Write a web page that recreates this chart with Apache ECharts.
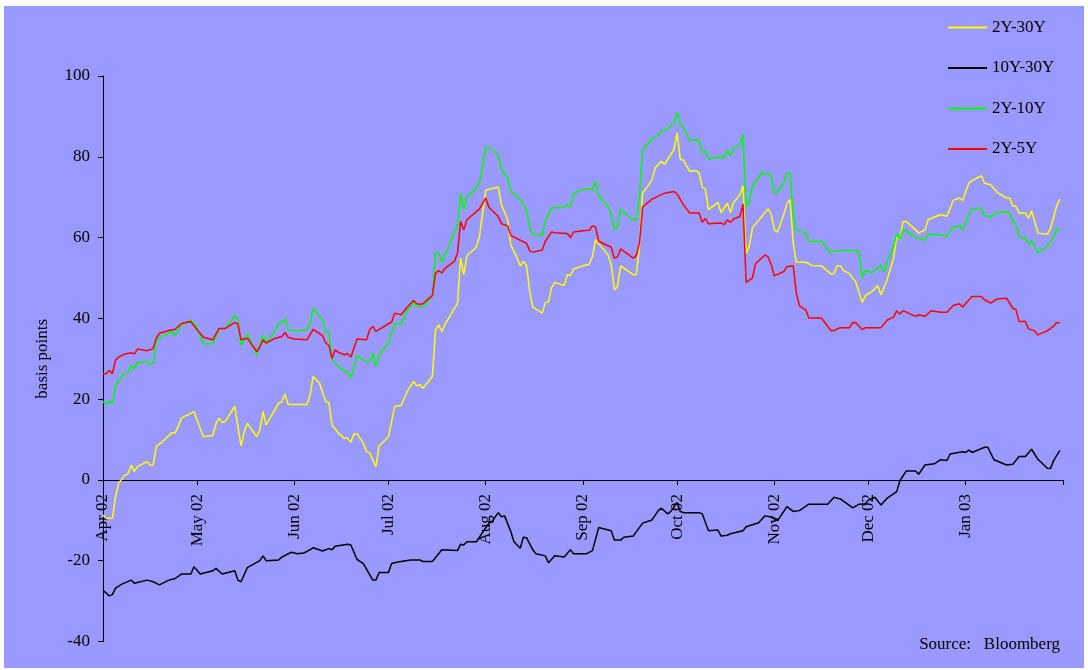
<!DOCTYPE html>
<html>
<head>
<meta charset="utf-8">
<script src="https://cdn.jsdelivr.net/npm/echarts@6/dist/echarts.min.js"></script>
<style>
  html, body { margin: 0; padding: 0; background: #ffffff; width: 1088px; height: 670px; overflow: hidden; }
  #chart { position: absolute; left: 4px; top: 6px; width: 1080px; height: 662px; }
</style>
</head>
<body>
<div id="chart"></div>
<script>
// x values: calendar days since 1 April 2002
const monthStarts = [0, 30, 61, 91, 122, 153, 183, 214, 244, 275, 306];
const monthLabels = ['Apr 02', 'May 02', 'Jun 02', 'Jul 02', 'Aug 02', 'Sep 02', 'Oct 02', 'Nov 02', 'Dec 02', 'Jan 03'];
const seriesNames = ['2Y-30Y', '10Y-30Y', '2Y-10Y', '2Y-5Y'];

const s2y30y = [[0,-8.7],[1,-9.5],[3,-9.5],[4,-4.1],[5,-0.8],[7,1.2],[8,1.5],[9,3.7],[10,2.1],[11,3.3],[14,4.5],[15,3.7],[16,3.7],[17,8.3],[19,9.5],[22,11.7],[23,11.7],[24,13.2],[25,15.3],[29,16.9],[32,10.7],[35,11.0],[36,13.9],[37,15.3],[38,14.2],[39,14.5],[42,18.2],[44,8.4],[45,11.9],[46,14.0],[49,10.7],[50,12.4],[51,16.9],[52,13.6],[56,19.0],[57,19.3],[58,21.2],[59,18.7],[65,18.7],[66,21.0],[67,25.6],[69,24.0],[70,21.6],[71,19.4],[72,19.2],[73,13.6],[75,11.6],[77,10.3],[78,10.3],[79,9.3],[80,11.4],[81,11.4],[83,9.1],[84,7.0],[85,6.7],[87,3.3],[88,8.4],[91,10.7],[93,18.2],[95,18.4],[97,21.9],[99,24.4],[100,23.3],[101,23.6],[102,22.7],[105,25.6],[106,37.2],[107,38.4],[108,36.7],[109,38.5],[113,43.8],[114,54.9],[115,50.8],[116,55.5],[119,57.6],[120,60.3],[122,71.7],[126,72.5],[127,68.1],[129,64.4],[130,58.2],[132,54.9],[133,53.0],[134,54.1],[135,53.1],[136,46.7],[137,42.8],[140,41.3],[141,43.9],[142,44.1],[143,47.6],[144,48.9],[147,48.1],[148,50.8],[149,50.6],[150,52.2],[153,53.0],[155,53.4],[156,55.3],[157,59.5],[158,58.5],[161,55.7],[162,53.3],[163,47.1],[164,47.9],[165,53.0],[169,50.8],[170,50.8],[171,57.8],[172,71.0],[175,74.3],[176,77.2],[178,78.9],[179,78.1],[182,81.8],[183,85.9],[184,79.4],[185,79.2],[187,76.4],[189,76.6],[190,76.0],[191,72.5],[192,72.0],[193,66.9],[196,68.7],[197,66.2],[199,68.5],[200,66.2],[201,68.7],[203,70.6],[204,72.8],[205,56.0],[206,57.8],[207,62.4],[212,67.1],[213,65.7],[214,61.9],[215,61.4],[217,65.7],[218,68.4],[219,69.4],[220,58.6],[221,53.9],[224,53.9],[226,53.1],[229,53.0],[232,51.0],[233,51.1],[234,53.0],[235,53.0],[236,51.9],[238,51.0],[240,48.9],[242,43.9],[243,45.6],[245,46.6],[247,48.1],[248,45.8],[250,49.7],[252,54.9],[253,60.5],[254,59.5],[255,64.0],[256,64.0],[259,61.9],[260,61.1],[262,61.9],[263,64.4],[267,65.7],[269,65.3],[271,69.2],[273,69.8],[274,69.2],[276,73.5],[277,74.1],[280,75.3],[281,73.5],[283,73.0],[285,71.2],[288,69.8],[289,69.8],[290,67.9],[291,67.7],[292,66.1],[294,66.1],[295,64.8],[296,66.6],[298,61.1],[301,60.8],[302,62.2],[304,67.9],[305,69.5]];

const s10y30y = [[0,-27.3],[2,-28.7],[3,-28.4],[4,-26.8],[6,-25.8],[9,-24.8],[10,-25.6],[14,-24.8],[16,-25.2],[18,-26.0],[21,-24.8],[23,-24.4],[25,-23.3],[28,-23.3],[29,-21.5],[31,-23.3],[35,-22.5],[36,-21.9],[38,-23.3],[42,-22.5],[43,-24.8],[44,-25.2],[46,-21.7],[50,-20.0],[51,-18.8],[52,-20.0],[56,-19.8],[57,-19.1],[60,-17.9],[62,-18.3],[64,-18.1],[65,-17.7],[67,-16.8],[70,-17.6],[72,-17.0],[73,-17.3],[74,-16.4],[78,-15.9],[79,-16.1],[81,-19.7],[83,-20.7],[86,-24.8],[87,-24.8],[88,-22.9],[91,-22.9],[92,-20.7],[94,-20.3],[98,-19.8],[101,-19.8],[102,-20.2],[105,-20.2],[108,-17.3],[113,-17.5],[114,-15.9],[115,-16.1],[116,-15.3],[119,-15.3],[123,-10.7],[124,-10.3],[126,-8.1],[127,-9.1],[128,-8.9],[130,-12.8],[131,-15.3],[133,-16.9],[134,-14.2],[135,-14.3],[137,-17.3],[138,-18.3],[141,-18.8],[142,-20.5],[144,-18.8],[147,-19.1],[149,-17.3],[150,-18.3],[154,-18.3],[156,-17.5],[158,-11.8],[162,-12.6],[163,-14.9],[165,-14.9],[166,-14.2],[169,-13.9],[172,-10.7],[175,-9.9],[177,-7.6],[178,-7.0],[180,-8.4],[181,-7.8],[183,-5.6],[184,-7.8],[185,-8.1],[190,-8.1],[191,-8.4],[193,-12.6],[196,-12.4],[197,-13.9],[199,-13.7],[200,-13.3],[204,-12.6],[205,-11.6],[209,-10.6],[211,-8.9],[213,-9.2],[215,-10.1],[218,-6.6],[220,-7.8],[222,-7.6],[225,-6.0],[231,-6.0],[233,-4.3],[235,-4.7],[239,-6.9],[241,-6.0],[243,-5.9],[244,-5.0],[246,-4.3],[248,-6.2],[250,-4.5],[253,-2.9],[254,-0.2],[256,2.2],[259,2.2],[260,1.4],[262,3.7],[265,4.0],[267,5.0],[269,4.8],[270,6.4],[274,7.0],[275,6.8],[276,7.4],[277,6.8],[281,8.1],[282,8.1],[284,5.0],[288,3.7],[290,3.9],[292,5.8],[294,5.8],[296,7.6],[298,5.1],[301,2.9],[302,2.8],[303,4.8],[305,7.3]];

const s2y10y = [[0,19.4],[1,18.7],[2,19.5],[3,18.9],[4,23.5],[7,26.6],[8,26.7],[9,28.5],[10,27.3],[11,29.1],[14,29.3],[15,28.5],[16,28.9],[17,34.3],[18,35.3],[21,36.3],[22,36.8],[23,35.7],[25,38.4],[28,39.6],[30,37.6],[32,33.7],[35,33.7],[37,37.3],[39,37.5],[42,40.7],[43,39.8],[44,33.2],[45,35.1],[46,36.1],[47,34.7],[49,31.0],[51,35.9],[52,34.0],[54,35.9],[56,38.8],[57,39.0],[58,39.9],[59,37.3],[61,36.8],[65,37.2],[66,38.7],[67,42.5],[70,39.6],[71,36.8],[72,36.6],[73,29.7],[76,27.4],[78,26.6],[79,25.2],[81,30.7],[84,29.3],[85,29.3],[86,31.4],[87,28.1],[88,31.0],[91,33.9],[93,38.8],[95,38.4],[97,42.1],[99,43.9],[100,43.1],[102,42.8],[105,45.5],[106,56.2],[107,56.4],[108,53.9],[110,57.4],[112,61.1],[113,63.2],[114,70.9],[115,66.9],[116,70.2],[118,71.4],[120,73.5],[122,82.3],[123,82.3],[126,80.5],[127,76.8],[129,74.8],[130,71.4],[133,69.4],[135,66.9],[136,62.4],[137,60.7],[140,60.5],[141,64.4],[143,67.3],[147,67.5],[148,68.1],[149,67.7],[150,71.0],[153,71.9],[155,72.1],[156,71.6],[157,74.1],[158,70.2],[161,67.7],[162,65.7],[163,61.9],[164,62.7],[165,66.9],[169,64.4],[170,64.2],[171,70.2],[172,81.8],[175,84.4],[177,85.3],[178,86.3],[180,86.9],[182,88.5],[183,91.0],[184,88.0],[185,87.2],[187,84.1],[190,84.2],[191,81.1],[192,81.6],[193,79.4],[197,80.2],[198,79.6],[199,81.7],[200,80.2],[201,82.2],[203,82.9],[204,85.5],[205,67.6],[206,68.7],[207,72.7],[210,76.0],[212,75.8],[213,75.2],[214,71.0],[215,71.4],[217,73.3],[218,76.0],[219,75.6],[220,66.1],[221,61.9],[224,61.1],[225,59.1],[229,59.1],[232,56.2],[234,56.8],[240,56.8],[241,56.5],[242,50.0],[243,51.9],[245,51.3],[248,53.1],[249,51.5],[250,54.2],[252,57.8],[253,60.9],[254,59.6],[255,62.0],[259,60.1],[262,59.3],[263,60.9],[267,60.7],[269,60.3],[271,62.6],[273,62.9],[274,62.0],[276,65.7],[277,67.1],[280,67.3],[281,65.4],[283,65.2],[285,66.2],[288,66.4],[289,66.0],[290,64.0],[291,63.2],[292,60.1],[294,59.9],[295,58.5],[296,59.1],[298,56.2],[301,57.9],[303,60.1],[304,62.2],[305,62.2]];

const s2y5y = [[0,26.3],[1,26.3],[2,27.1],[3,26.3],[4,29.7],[5,30.4],[7,31.2],[9,31.5],[10,31.2],[11,32.4],[14,32.0],[16,32.5],[17,35.1],[18,36.3],[21,37.0],[23,37.3],[25,38.7],[28,39.2],[30,37.2],[32,35.3],[35,34.7],[37,37.5],[39,37.5],[42,39.0],[43,38.6],[44,34.7],[46,35.1],[49,31.8],[50,32.9],[51,34.7],[52,33.9],[55,35.1],[57,35.5],[58,36.5],[59,35.3],[61,34.9],[65,34.7],[67,37.3],[70,35.7],[71,33.9],[72,33.3],[73,30.1],[74,32.2],[75,31.6],[77,31.0],[78,31.3],[79,30.4],[81,34.9],[84,34.7],[85,37.2],[86,38.0],[87,36.8],[92,39.1],[93,41.3],[95,40.9],[97,42.8],[99,44.4],[100,43.6],[101,43.5],[102,43.6],[105,45.7],[106,51.2],[107,51.8],[108,51.2],[109,52.4],[112,54.1],[113,56.2],[114,64.0],[115,61.9],[116,64.4],[120,67.1],[122,69.8],[123,67.5],[126,65.2],[127,63.4],[129,62.9],[130,60.5],[135,58.6],[136,56.7],[137,56.4],[140,56.9],[141,59.1],[143,61.4],[144,61.2],[148,61.0],[149,60.0],[150,61.4],[153,61.7],[155,61.8],[156,62.9],[157,62.6],[158,59.1],[162,57.6],[163,54.9],[164,55.2],[165,57.2],[169,54.9],[170,55.6],[171,58.6],[172,67.6],[175,69.5],[179,71.0],[182,71.4],[183,70.8],[185,68.1],[187,66.1],[190,66.1],[191,63.8],[192,64.7],[193,63.4],[197,63.6],[198,63.2],[199,64.4],[200,63.8],[201,64.6],[203,65.2],[204,68.3],[205,48.9],[207,50.0],[208,53.5],[211,55.7],[212,55.2],[213,53.3],[214,50.5],[217,51.6],[218,52.8],[220,53.0],[221,46.3],[222,43.1],[224,42.1],[225,40.1],[229,40.1],[232,37.0],[233,37.0],[235,37.7],[238,37.7],[239,39.0],[240,38.9],[242,37.2],[243,37.7],[248,37.7],[250,39.6],[252,40.3],[253,41.9],[254,41.1],[255,41.9],[259,40.5],[260,40.9],[262,40.5],[264,41.9],[267,41.5],[269,41.5],[271,43.2],[273,43.6],[274,42.8],[277,45.4],[280,45.4],[281,44.6],[283,43.8],[285,44.8],[288,45.0],[290,42.5],[291,42.2],[292,39.2],[294,39.2],[295,37.4],[297,36.9],[298,35.9],[301,36.9],[303,38.1],[304,39.0],[305,38.9]];

const yMin = -40, yMax = 100, yStep = 20;
const seriesData = [s2y30y, s10y30y, s2y10y, s2y5y];
const seriesColors = ['#FFFF00', '#000000', '#00FF00', '#FF0000'];

const GRID = { left: 99, right: 21, top: 70, bottom: 26.5 };
const CH = 662;
const gridH = CH - GRID.top - GRID.bottom;
// place the date axis on the value-axis zero line (labels included)
const zeroOffset = -gridH * (0 - yMin) / (yMax - yMin);

const FONT = '"Liberation Serif", "Times New Roman", serif';
const chart = echarts.init(document.getElementById('chart'), null, { renderer: 'canvas' });

chart.setOption({
  backgroundColor: '#9999FF',
  animation: false,
  textStyle: { fontFamily: FONT, color: '#000' },
  grid: { left: GRID.left, right: GRID.right, top: GRID.top, bottom: GRID.bottom, containLabel: false, outerBoundsMode: 'none' },
  legend: {
    data: seriesNames,
    orient: 'vertical',
    left: 939,
    top: 8,
    itemGap: 23.5,
    itemWidth: 39,
    itemHeight: 2,
    icon: 'rect',
    textStyle: { fontFamily: FONT, fontSize: 17, color: '#000' }
  },
  xAxis: {
    type: 'value',
    min: monthStarts[0],
    max: monthStarts[monthStarts.length - 1],
    offset: zeroOffset,
    axisLine: { onZero: false, lineStyle: { color: '#000', width: 1 } },
    axisTick: { show: true, length: 5, inside: false, customValues: monthStarts, lineStyle: { color: '#000' } },
    axisLabel: {
      customValues: monthStarts.slice(0, monthLabels.length),
      formatter: function (v) { const i = monthStarts.indexOf(v); return i >= 0 && i < monthLabels.length ? monthLabels[i] : ''; },
      rotate: 90,
      margin: 14,
      fontFamily: FONT,
      fontSize: 17,
      color: '#000'
    },
    splitLine: { show: false }
  },
  yAxis: {
    type: 'value',
    min: yMin,
    max: yMax,
    interval: yStep,
    name: 'basis points',
    nameLocation: 'middle',
    nameRotate: 90,
    nameGap: 52,
    nameTextStyle: { fontFamily: FONT, fontSize: 17, color: '#000' },
    axisLine: { show: true, onZero: false, lineStyle: { color: '#000', width: 1 } },
    axisTick: { show: true, length: 5, inside: false, lineStyle: { color: '#000' } },
    axisLabel: { margin: 13, fontFamily: FONT, fontSize: 17, color: '#000' },
    splitLine: { show: false }
  },
  graphic: [{
    type: 'text',
    right: 24,
    top: 630,
    style: { text: 'Source:   Bloomberg', font: '17px ' + FONT, fill: '#000' }
  }],
  series: seriesNames.map(function (name, i) {
    return {
      name: name,
      type: 'line',
      data: seriesData[i],
      showSymbol: false,
      symbol: 'none',
      lineStyle: { color: seriesColors[i], width: 1.5 },
      itemStyle: { color: seriesColors[i] },
      z: 2 + i
    };
  })
});
</script>
</body>
</html>
